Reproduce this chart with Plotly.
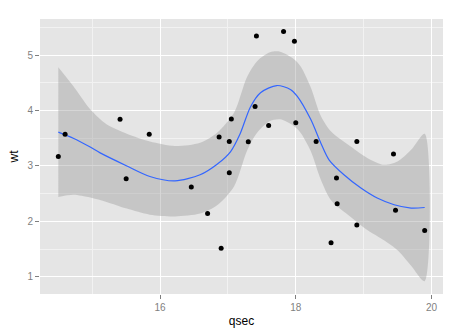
import plotly.graph_objects as go

# mtcars subset (qsec < 20)
qsec = [16.46, 17.02, 18.61, 19.44, 17.02, 15.84, 18.30, 18.90, 17.40, 17.60,
        18.00, 17.98, 17.82, 17.42, 19.47, 18.52, 19.90, 16.87, 17.30, 15.41,
        17.05, 18.90, 16.70, 16.90, 14.50, 15.50, 14.60, 18.60]
wt = [2.620, 2.875, 2.320, 3.215, 3.440, 3.570, 3.440, 3.440, 4.070, 3.730,
      3.780, 5.250, 5.424, 5.345, 2.200, 1.615, 1.835, 3.520, 3.435, 3.840,
      3.845, 1.935, 2.140, 1.513, 3.170, 2.770, 3.570, 2.780]

# smooth curve
fit_x = [14.50, 14.72, 14.97, 15.11, 15.51, 15.85, 16.22, 16.59, 16.84, 17.04,
         17.18, 17.33, 17.48, 17.72, 17.92, 18.02, 18.22, 18.37, 18.49, 18.71,
         18.96, 19.20, 19.45, 19.70, 19.90]
fit_y = [3.61, 3.50, 3.34, 3.24, 3.00, 2.81, 2.73, 2.84, 3.03, 3.26,
         3.58, 4.06, 4.32, 4.45, 4.38, 4.26, 3.84, 3.41, 3.11, 2.84,
         2.60, 2.42, 2.30, 2.24, 2.25]

band_x = [14.50, 14.72, 14.97, 15.21, 15.51, 15.85, 16.22, 16.59, 16.84, 17.09,
          17.28, 17.43, 17.62, 17.77, 17.97, 18.07, 18.22, 18.37, 18.52, 18.81,
          19.06, 19.30, 19.50, 19.70, 19.90]
band_hi = [4.78, 4.44, 4.02, 3.75, 3.58, 3.44, 3.36, 3.42, 3.60, 3.96,
           4.60, 4.89, 5.05, 5.06, 4.93, 4.80, 4.42, 3.90, 3.62, 3.35,
           3.14, 3.02, 3.08, 3.29, 3.58]
band_lo = [2.44, 2.48, 2.43, 2.35, 2.23, 2.12, 2.09, 2.14, 2.29, 2.63,
           3.27, 3.60, 3.81, 3.84, 3.72, 3.60, 3.27, 2.75, 2.38, 2.08,
           1.84, 1.66, 1.48, 1.20, 0.92]

x_ticks = [16, 18, 20]
y_ticks = [1, 2, 3, 4, 5]

fig = go.Figure()
fig.add_trace(go.Scatter(
    x=band_x + band_x[::-1], y=band_hi + band_lo[::-1],
    fill="toself", fillcolor="rgba(153,153,153,0.4)",
    line=dict(width=0, shape="spline", smoothing=0.8),
    mode="lines", hoverinfo="skip", showlegend=False))
fig.add_trace(go.Scatter(
    x=fit_x, y=fit_y, mode="lines",
    line=dict(color="#3366FF", width=1.2, shape="spline", smoothing=0.8),
    showlegend=False))
fig.add_trace(go.Scatter(
    x=qsec, y=wt, mode="markers", marker=dict(color="black", size=5),
    showlegend=False))

axis_common = dict(
    showline=False, zeroline=False, ticks="outside", ticklen=4,
    tickcolor="#7F7F7F", tickwidth=1, automargin=False,
    tickfont=dict(family="Liberation Sans, Arial", size=10, color="#7F7F7F"),
    gridcolor="white", gridwidth=1.2,
)
fig.update_layout(
    width=462, height=336,
    margin=dict(l=40, r=19, t=19, b=42),
    paper_bgcolor="white", plot_bgcolor="#E5E5E5",
    font=dict(family="Liberation Sans, Arial", color="black"),
    xaxis=dict(range=[14.23, 20.17], tickvals=x_ticks,
               minor=dict(tickvals=[15, 17, 19], showgrid=True, gridcolor="#F2F2F2",
                          gridwidth=0.6, ticks=""),
               title=dict(text="qsec", font=dict(size=12), standoff=4),
               **axis_common),
    yaxis=dict(range=[0.69, 5.65], tickvals=y_ticks,
               minor=dict(tickvals=[1.5, 2.5, 3.5, 4.5, 5.5], showgrid=True,
                          gridcolor="#F2F2F2", gridwidth=0.6, ticks=""),
               title=dict(text="wt", font=dict(size=12), standoff=6),
               **axis_common),
)
fig.write_html("out.html", config={"displayModeBar": False},
               post_script="document.body.style.margin='0';document.body.style.overflow='hidden';")
